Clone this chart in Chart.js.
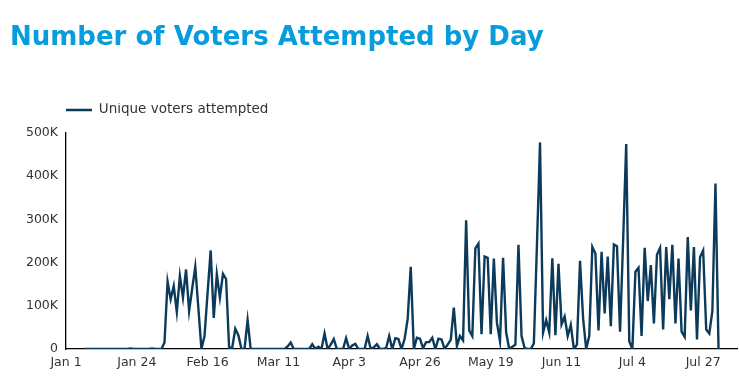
<!DOCTYPE html>
<html>
<head>
<meta charset="utf-8">
<title>Number of Voters Attempted by Day</title>
<script src="https://cdn.jsdelivr.net/npm/chart.js"></script>
<style>
  html, body { margin: 0; padding: 0; background: #fff; }
  #wrap { width: 739px; height: 386px; }
</style>
</head>
<body>
<div id="wrap"><canvas id="chart" width="739" height="386"></canvas></div>
<script>
// ── data ─────────────────────────────────────
const TITLE = "Number of Voters Attempted by Day";
const SERIES_LABEL = "Unique voters attempted";

// first day of the axis and number of daily slots on it
const START_DATE = [2021, 0, 1];
const DAY_COUNT = 219;
const TICK_EVERY = 23; // Jan 1, Jan 24, Feb 16 ...

// y axis ticks
const Y_TICKS = [0, 100000, 200000, 300000, 400000, 500000];

// daily values, index 0 = Jan 1 (null = no data)
const voters = [
  null, null, null, null, null, null,
  0, 0, 0, 0, 0, 0, 0, 0, 0, 0, 0, 0, 0, 0, 0, 1000, 0, 0, 0, 0, 0, 0, 1500, 0, 0, 0,
  15000, 156000, 115000, 146000, 86000, 169000, 119000, 184000, 88000, 140000,
  190000, 95000, 0, 30000, 130000, 228000, 72000, 173000, 119000, 174000,
  162000, 3000, 3000, 47000, 32000, 0, 0, 67000, 0,
  0, 0, 0, 0, 0, 0, 0, 0, 0,
  0, 0, 6000, 15000, 0, 0, 0, 0, 0, 0,
  11000, 0, 5000, 0, 36000, 0, 10000, 23000, 0, 0,
  0, 25000, 0, 8000, 12000, 0, 0, 0, 30000, 0,
  4000, 11000, 0, 0, 2000, 30000, 0, 25000, 23000, 0,
  23000, 69000, 190000, 0, 26000, 24000, 2000, 16000, 16000, 26000,
  0, 24000, 22000, 0, 10000, 21000, 96000, 7000, 30000, 20000,
  298000, 43000, 30000, 233000, 244000, 34000, 214000, 211000, 34000, 209000,
  61000, 18000, 211000, 38000, 0, 5000, 10000, 241000, 30000, 2000,
  0, 0, 13000, 240000, 478000, 38000, 67000, 38000, 210000, 32000,
  197000, 57000, 75000, 30000, 56000, 0, 10000, 204000, 71000, 0,
  30000, 236000, 221000, 43000, 225000, 82000, 214000, 53000, 242000, 238000,
  40000, 250000, 474000, 18000, 0, 179000, 188000, 30000, 234000, 111000,
  194000, 59000, 218000, 234000, 45000, 236000, 115000, 241000, 59000, 209000,
  40000, 28000, 259000, 89000, 236000, 22000, 213000, 228000, 45000, 36000,
  88000, 383000, 0,
  null, null, null, null, null, null
];

// ── colours / fonts ──────────────────────────
const COLORS = {
  title: "#079ddc",
  line:  "#0b3a5b",
  text:  "#333333",
  axis:  "#000000",
};
const FONT = "'DejaVu Sans', sans-serif";

// daily category labels ("Jan 1", "Jan 2", ...)
const dayLabels = [];
for (let i = 0; i < DAY_COUNT; i++) {
  const d = new Date(START_DATE[0], START_DATE[1], START_DATE[2] + i);
  dayLabels.push(d.toLocaleString("en-US", { month: "short", day: "numeric" }));
}

const ctx = document.getElementById("chart").getContext("2d");
new Chart(ctx, {
  type: "line",
  data: {
    labels: dayLabels,
    datasets: [{
      label: SERIES_LABEL,
      data: voters,
      borderColor: COLORS.line,
      backgroundColor: COLORS.line,
      borderWidth: 2.4,
      pointRadius: 0,
      pointHoverRadius: 0,
      tension: 0,
      fill: false,
    }],
  },
  options: {
    responsive: false,
    animation: false,
    layout: { padding: { top: 0, left: 10, right: 2, bottom: 10 } },
    plugins: {
      title: {
        display: true,
        text: TITLE,
        align: "start",
        color: COLORS.title,
        font: { family: FONT, size: 26, weight: "bold" },
        padding: { top: 23, bottom: 49 },
      },
      legend: {
        display: true,
        position: "top",
        align: "start",
        fullSize: false,
        labels: {
          usePointStyle: true,
          pointStyle: "line",
          pointStyleWidth: 26,
          padding: 0,
          color: COLORS.text,
          font: { family: FONT, size: 13.5 },
        },
      },
      // empty spacer between legend and plot
      subtitle: {
        display: true,
        text: " ",
        weight: 900,
        font: { size: 1 },
        padding: { top: 2.5, bottom: 2.5 },
      },
      tooltip: { enabled: false },
    },
    scales: {
      x: {
        grid: { display: false, drawTicks: false },
        border: { display: true, color: COLORS.axis, width: 1.3 },
        afterFit: (scale) => { scale.paddingLeft = 0; scale.paddingRight = 0; },
        ticks: {
          autoSkip: false,
          maxRotation: 0,
          padding: 6,
          color: COLORS.text,
          font: { family: FONT, size: 12.5 },
          callback: function (value, index) {
            return index % TICK_EVERY === 0 ? this.getLabelForValue(value) : "";
          },
        },
      },
      y: {
        min: Y_TICKS[0],
        max: Y_TICKS[Y_TICKS.length - 1],
        grid: { display: false, drawTicks: false },
        border: { display: true, color: COLORS.axis, width: 1.3 },
        afterFit: (scale) => { scale.width = 56; },
        afterBuildTicks: (scale) => { scale.ticks = Y_TICKS.map(v => ({ value: v })); },
        ticks: {
          padding: 8,
          color: COLORS.text,
          font: { family: FONT, size: 12.5 },
          callback: (v) => (v === 0 ? "0" : v / 1000 + "K"),
        },
      },
    },
  },
});
</script>
</body>
</html>
